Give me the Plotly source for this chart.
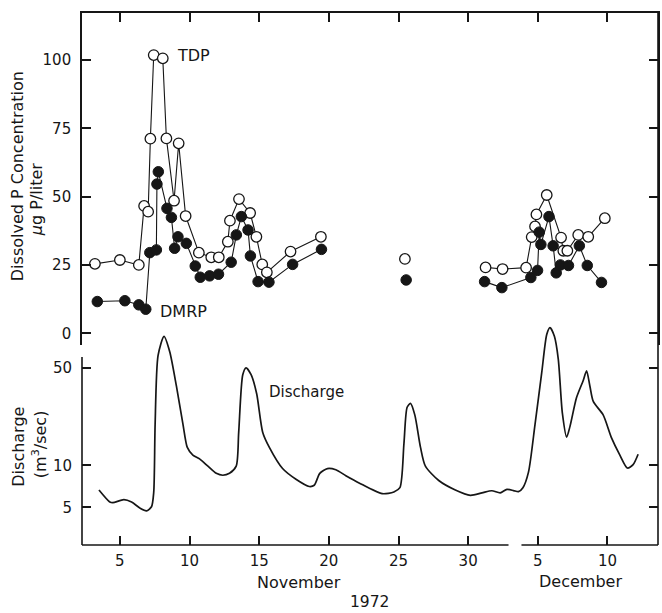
import math
import plotly.graph_objects as go

# ---------------- data (x = day count from 1 Nov 1972; December n -> 30 + n) -------------
tdp_day = [3.21, 5.0, 6.36, 6.74, 7.03, 7.19, 7.43, 8.08, 8.34, 8.89, 9.22, 9.72, 10.67,
           11.56, 12.1, 12.75, 12.9, 13.55, 14.35, 14.8, 15.22, 15.55, 17.25, 19.43,
           25.46,
           31.25, 32.47, 34.16, 34.56, 34.8, 34.9, 35.64, 36.67, 36.83, 37.12, 37.9, 38.62, 39.81]
tdp_val = [25.4, 26.8, 25.0, 46.6, 44.5, 71.2, 101.8, 100.6, 71.3, 48.5, 69.5, 42.9, 29.5,
           27.8, 27.8, 33.5, 41.2, 49.1, 44.0, 35.3, 25.2, 22.3, 29.9, 35.3,
           27.2,
           24.1, 23.5, 24.0, 35.2, 39.1, 43.5, 50.6, 35.0, 30.2, 30.2, 36.0, 35.3, 42.1]

dmrp_day = [3.38, 5.36, 6.36, 6.86, 7.15, 7.62, 7.66, 7.76, 8.38, 8.70, 8.93, 9.17, 9.77,
            10.41, 10.77, 11.44, 12.08, 12.99, 13.36, 13.72, 14.2, 14.37, 14.92, 15.7, 17.4, 19.47,
            25.55,
            31.18, 32.42, 34.5, 34.98, 35.1, 35.22, 35.8, 36.1, 36.32, 36.62, 37.2, 37.98, 38.55, 39.57]
dmrp_val = [11.6, 11.9, 10.4, 8.8, 29.5, 30.5, 54.6, 59.1, 45.7, 42.4, 31.1, 35.3, 32.9,
            24.6, 20.5, 21.0, 21.6, 26.0, 36.0, 42.7, 37.8, 28.3, 18.9, 18.7, 25.2, 30.7,
            19.5,
            18.9, 16.7, 20.4, 23.0, 37.0, 32.5, 42.7, 32.0, 22.1, 25.0, 24.8, 32.0, 24.8, 18.6]

q_day = [3.50, 4.28, 4.5, 5.29, 5.84, 6.43, 6.91, 7.27, 7.43, 7.53, 7.74, 8.17, 8.58, 9.06,
         9.53, 9.84, 10.24, 10.72, 11.32, 11.92, 12.39, 12.87, 13.35, 13.53, 13.82, 14.06,
         14.42, 14.82, 15.25, 15.73, 16.68, 17.64, 18.59, 18.95, 19.35, 19.9, 20.5, 21.22,
         22.17, 23.83, 24.67, 25.1, 25.39, 25.62, 25.86, 26.17, 26.58, 26.93, 27.89, 29.08,
         30.16, 30.99, 31.7, 32.3, 32.78, 33.26, 33.61, 33.93, 34.33, 34.8, 35.28, 35.64,
         35.87, 36.19, 36.47, 36.76, 37.07, 37.31, 37.78, 38.26, 38.5, 38.74, 38.98, 39.69,
         40.29, 40.89, 41.43, 41.84, 42.2]
q_val = [6.67, 5.47, 5.41, 5.69, 5.47, 4.96, 4.73, 5.06, 6.41, 19.7, 61.2, 84.0, 65.2, 36.9,
         19.7, 13.46, 11.86, 11.14, 9.88, 8.78, 8.51, 8.78, 9.88, 17.3, 44.6, 50.0,
         44.6, 32.6, 17.3, 13.46, 9.50, 7.96, 7.07, 7.21, 8.78, 9.50, 9.31, 8.45,
         7.50, 6.28, 6.46, 6.93, 14.3, 26.1, 27.8, 23.0, 13.46, 9.88, 7.80, 6.67,
         6.11, 6.36, 6.59, 6.36, 6.74, 6.61, 6.49, 6.93, 8.96, 19.7, 46.1, 86.6,
         97.0, 84.0, 57.5, 23.8, 15.96, 19.04, 30.6, 40.6, 47.6, 36.9, 28.7, 23.0,
         15.75, 11.86, 9.58, 10.13, 12.02]

day_ticks = [5, 10, 15, 20, 25, 30, 35, 40]
day_tick_text = ["5", "10", "15", "20", "25", "30", "5", "10"]
conc_ticks = [0, 25, 50, 75, 100]
q_ticks = [5, 10, 50]

# ---------------- layout geometry (pixels in a 662x613 page) ----------------
W, H = 662, 613
L, R, T, B = 82, 660, 13, 545
FONT = "DejaVu Sans"
INK = "#161616"


def px(xp):
    return (xp - L) / (R - L)


def py(yp):
    return (B - yp) / (B - T)


def split_gaps(xs, ys, gap=3.0):
    ox, oy = [], []
    for i, (a, b) in enumerate(zip(xs, ys)):
        if i and a - xs[i - 1] > gap:
            ox.append(None)
            oy.append(None)
        ox.append(a)
        oy.append(b)
    return ox, oy


fig = go.Figure()

dx, dy = split_gaps(dmrp_day, dmrp_val)
tx, ty = split_gaps(tdp_day, tdp_val)

fig.add_trace(go.Scatter(
    x=tx, y=ty, mode="lines+markers", xaxis="x2", yaxis="y",
    line=dict(color=INK, width=1.1),
    marker=dict(symbol="circle", size=10.5, color="white", line=dict(color=INK, width=1.3)),
    connectgaps=False, showlegend=False, name="TDP"))
fig.add_trace(go.Scatter(
    x=dx, y=dy, mode="lines+markers", xaxis="x2", yaxis="y",
    line=dict(color=INK, width=1.1),
    marker=dict(symbol="circle", size=10.5, color=INK, line=dict(color=INK, width=1)),
    connectgaps=False, showlegend=False, name="DMRP"))
fig.add_trace(go.Scatter(
    x=q_day, y=q_val, mode="lines", xaxis="x", yaxis="y2",
    line=dict(color=INK, width=1.7, shape="spline", smoothing=0.7),
    showlegend=False, name="Discharge"))

xr = [5 - (120 - L) / 13.98, 5 + (R - 120) / 13.98]
axis_font = dict(family=FONT, size=15, color=INK)

# log-axis calibration
y2_top_px = 318
lo = 1.1327 - (B - 446.9) / 139.7
hi = 1.1327 + (446.9 - y2_top_px) / 139.7

fig.update_layout(
    width=W, height=H,
    margin=dict(l=L, r=W - R, t=T, b=H - B, pad=0),
    paper_bgcolor="white", plot_bgcolor="rgba(0,0,0,0)",
    font=axis_font,
    xaxis=dict(anchor="y2", range=xr, tickvals=day_ticks, ticktext=day_tick_text,
               ticks="inside", ticklen=9, tickwidth=1.5, tickcolor=INK,
               showline=False, showgrid=False, zeroline=False,
               tickfont=axis_font, ticklabelstandoff=5),
    xaxis2=dict(anchor="y", matches="x", side="top", range=xr, tickvals=day_ticks,
                ticktext=day_tick_text,
                ticks="inside", ticklen=9, tickwidth=1.5, tickcolor=INK,
                showticklabels=False, showline=True, linecolor=INK, linewidth=1.6,
                showgrid=False, zeroline=False),
    yaxis=dict(domain=[py(345), 1], range=[-4.3, 117.2], tickvals=conc_ticks,
               ticks="inside", ticklen=9, tickwidth=1.5, tickcolor=INK,
               showline=True, linecolor=INK, linewidth=1.6, mirror="ticks",
               showgrid=False, zeroline=False, tickfont=axis_font, ticklabelstandoff=6),
    yaxis2=dict(domain=[0, py(y2_top_px)], type="log", range=[lo, hi], tickvals=q_ticks,
                ticktext=[str(v) for v in q_ticks],
                ticks="inside", ticklen=9, tickwidth=1.5, tickcolor=INK,
                showline=True, linecolor="rgba(0,0,0,0)", mirror="ticks", anchor="x",
                showgrid=False, zeroline=False, tickfont=axis_font, ticklabelstandoff=6),
)

line = dict(color=INK, width=1.6)
# bottom axis line with a break between November and December
brk_a, brk_b = 5 + (510 - 120) / 13.98, 5 + (523 - 120) / 13.98
fig.add_shape(type="line", xref="x", yref="paper", x0=xr[0], x1=brk_a, y0=0, y1=0, line=line)
fig.add_shape(type="line", xref="x", yref="paper", x0=brk_b, x1=xr[1], y0=0, y1=0, line=line)
# left axis of lower panel (separate from upper panel), right frame continuous
fig.add_shape(type="line", xref="paper", yref="paper", x0=0, x1=0, y0=0, y1=py(357), line=line)
fig.add_shape(type="line", xref="paper", yref="paper", x0=1, x1=1, y0=0, y1=1, line=line)

ann = []
def add(text, xp, yp, size=15, angle=0, xanchor="center"):
    ann.append(dict(text=text, x=px(xp), y=py(yp), xref="paper", yref="paper",
                    showarrow=False, textangle=angle, xanchor=xanchor, yanchor="middle",
                    font=dict(family=FONT, size=size, color=INK)))

add("TDP", 175, 55.5, 16, xanchor="left")
add("DMRP", 158, 311.5, 16, xanchor="left")
add("Discharge", 268, 391.7, 15, xanchor="left")
add("November", 300, 582, 16)
add("December", 582, 581, 16)
add("1972", 370, 602, 15.5)
add("Dissolved P Concentration", 18, 176, 16, angle=-90)
add("<i>μ</i>g P/liter", 37, 200, 16, angle=-90)
add("Discharge", 18, 446.5, 16, angle=-90)
add("(m<sup>3</sup>/sec)", 39, 444, 16, angle=-90)
fig.update_layout(annotations=ann)

fig.write_html("out.html")
